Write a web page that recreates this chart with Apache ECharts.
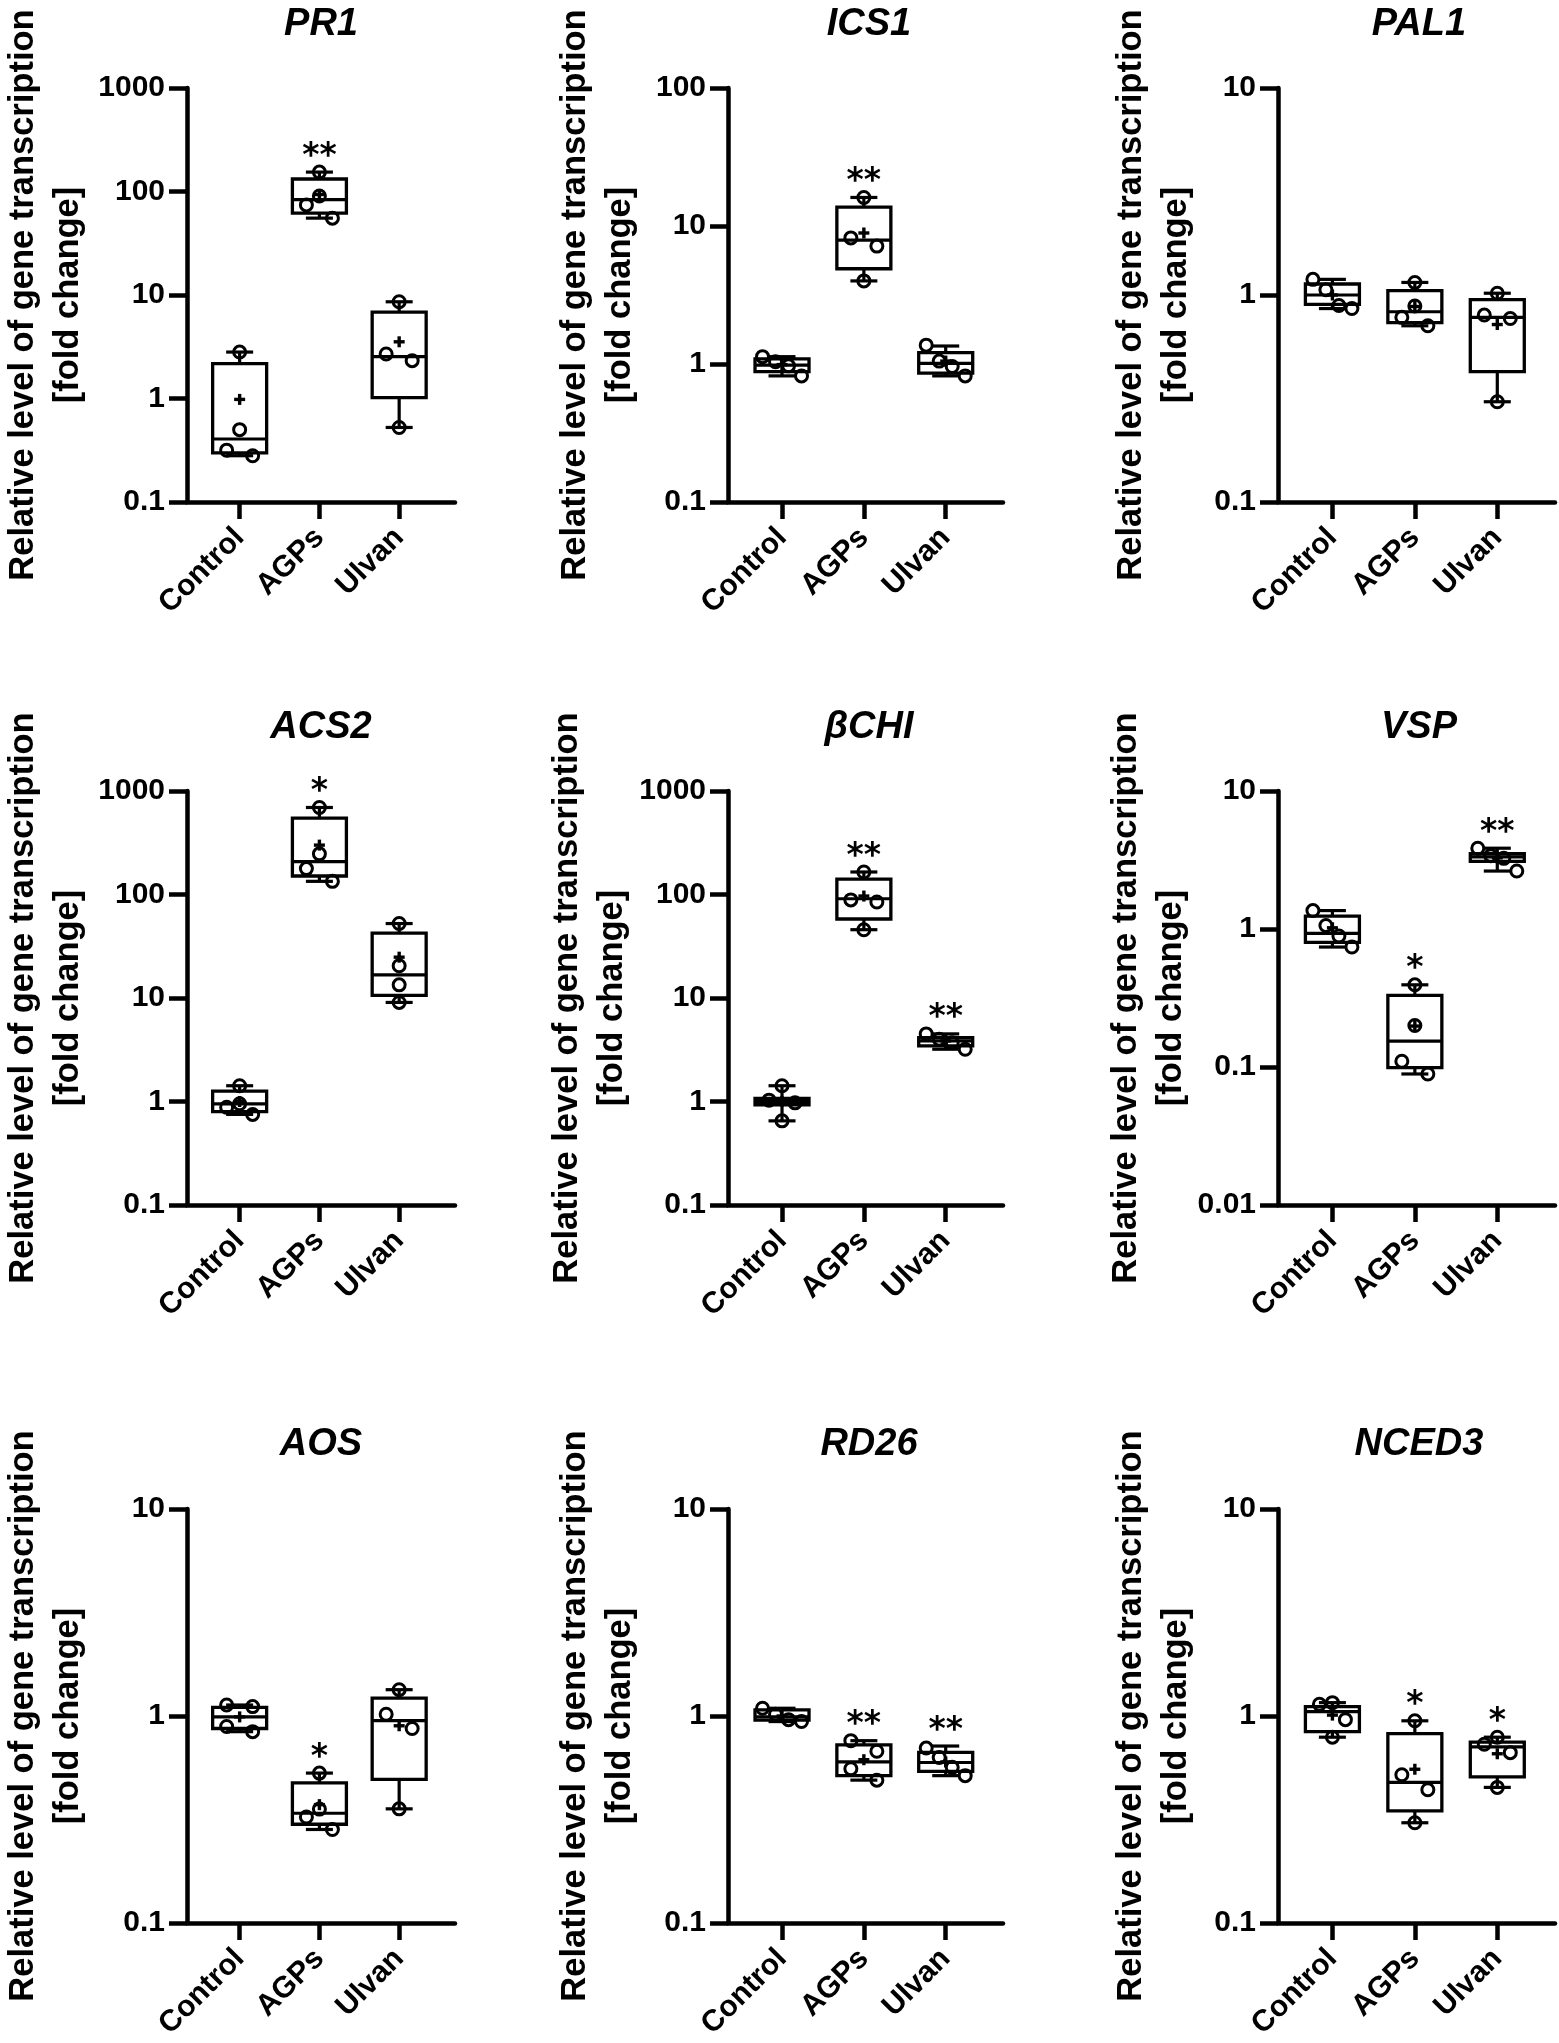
<!DOCTYPE html>
<html>
<head>
<meta charset="utf-8">
<script src="https://cdn.jsdelivr.net/npm/echarts@6/dist/echarts.min.js"></script>
<style>
html,body{margin:0;padding:0;background:#fff;}
#chart{width:1559px;height:2043px;}
</style>
</head>
<body>
<div id="chart"></div>
<script>
// ---------------- data ----------------
const categories = ['Control', 'AGPs', 'Ulvan'];
const geneNames = ['PR1', 'ICS1', 'PAL1', 'ACS2', 'βCHI', 'VSP', 'AOS', 'RD26', 'NCED3'];
const yAxisMin = [0.1, 0.1, 0.1, 0.1, 0.1, 0.01, 0.1, 0.1, 0.1];
const yAxisMax = [1000, 100, 10, 1000, 1000, 10, 10, 10, 10];
const yAxisTitle = 'Relative level of gene transcription\n[fold change]';

// individual replicates (4 per group), box [min, Q1, median, Q3, max], mean "+", significance
const PR1_points = [[2.81, 0.50, 0.317, 0.28], [154, 90.6, 74.2, 55.3], [8.6, 2.69, 2.32, 0.525]];
const PR1_box = [[0.28, 0.298, 0.406, 2.17, 2.81], [55.3, 61.7, 83.5, 132, 154], [0.525, 1.02, 2.54, 6.84, 8.6]];
const PR1_mean = [0.98, 93.5, 3.53];
const PR1_sig = ['', '**', ''];

const ICS1_points = [[1.13, 1.04, 0.97, 0.82], [16.1, 8.2, 7.15, 4.0], [1.37, 1.05, 0.96, 0.82]];
const ICS1_box = [[0.82, 0.88, 0.98, 1.09, 1.13], [4.0, 4.9, 7.9, 13.7, 16.1], [0.82, 0.86, 1.01, 1.21, 1.35]];
const ICS1_mean = [0.99, 8.9, 1.05];
const ICS1_sig = ['', '**', ''];

const PAL1_points = [[1.19, 1.06, 0.89, 0.86], [1.15, 0.885, 0.78, 0.71], [1.02, 0.80, 0.77, 0.305]];
const PAL1_box = [[0.86, 0.90, 1.0, 1.13, 1.19], [0.71, 0.736, 0.83, 1.05, 1.15], [0.305, 0.426, 0.78, 0.95, 1.02]];
const PAL1_mean = [1.0, 0.88, 0.72];
const PAL1_sig = ['', '', ''];

const ACS2_points = [[1.42, 0.95, 0.88, 0.75], [693, 247, 178, 134], [52.4, 20.5, 13.4, 9.06]];
const ACS2_box = [[0.75, 0.80, 0.95, 1.26, 1.42], [134, 151, 208, 548, 693], [9.06, 10.6, 16.7, 42.3, 52.4]];
const ACS2_mean = [1.0, 300, 24.8];
const ACS2_sig = ['', '*', ''];

const BCHI_points = [[1.42, 1.03, 0.97, 0.65], [165, 88.7, 84.6, 45.7], [4.5, 4.0, 3.7, 3.2]];
const BCHI_box = [[0.65, 0.93, 1.0, 1.07, 1.42], [45.7, 58, 91, 140.6, 165], [3.2, 3.44, 3.85, 4.15, 4.5]];
const BCHI_mean = [1.0, 96.6, 3.85];
const BCHI_sig = ['', '**', '**'];

const VSP_points = [[1.36, 1.06, 0.89, 0.74], [0.394, 0.20, 0.11, 0.089], [3.85, 3.4, 3.25, 2.63]];
const VSP_box = [[0.74, 0.80, 0.93, 1.24, 1.36], [0.089, 0.099, 0.154, 0.33, 0.394], [2.63, 3.09, 3.33, 3.51, 3.85]];
const VSP_mean = [1.02, 0.198, 3.28];
const VSP_sig = ['', '*', '**'];

const AOS_points = [[1.13, 1.11, 0.89, 0.84], [0.53, 0.355, 0.325, 0.283], [1.34, 1.02, 0.87, 0.356]];
const AOS_box = [[0.84, 0.87, 0.99, 1.10, 1.13], [0.283, 0.30, 0.339, 0.475, 0.53], [0.356, 0.494, 0.95, 1.22, 1.34]];
const AOS_mean = [0.99, 0.373, 0.897];
const AOS_sig = ['', '*', ''];

const RD26_points = [[1.09, 1.02, 0.96, 0.94], [0.76, 0.676, 0.556, 0.49], [0.70, 0.63, 0.565, 0.515]];
const RD26_box = [[0.94, 0.955, 0.99, 1.07, 1.09], [0.49, 0.515, 0.60, 0.726, 0.76], [0.515, 0.54, 0.596, 0.667, 0.716]];
const RD26_mean = [1.0, 0.615, 0.60];
const RD26_sig = ['', '**', '**'];

const NCED3_points = [[1.16, 1.14, 0.96, 0.79], [0.948, 0.52, 0.44, 0.305], [0.79, 0.73, 0.665, 0.452]];
const NCED3_box = [[0.79, 0.84, 1.05, 1.11, 1.16], [0.305, 0.348, 0.478, 0.822, 0.948], [0.452, 0.508, 0.71, 0.748, 0.79]];
const NCED3_mean = [1.01, 0.553, 0.657];
const NCED3_sig = ['', '*', '*'];

const allPoints = [PR1_points, ICS1_points, PAL1_points, ACS2_points, BCHI_points, VSP_points, AOS_points, RD26_points, NCED3_points];
const allBoxes = [PR1_box, ICS1_box, PAL1_box, ACS2_box, BCHI_box, VSP_box, AOS_box, RD26_box, NCED3_box];
const allMeans = [PR1_mean, ICS1_mean, PAL1_mean, ACS2_mean, BCHI_mean, VSP_mean, AOS_mean, RD26_mean, NCED3_mean];
const allSigs = [PR1_sig, ICS1_sig, PAL1_sig, ACS2_sig, BCHI_sig, VSP_sig, AOS_sig, RD26_sig, NCED3_sig];

// ---------------- layout ----------------
const colLeft = [180, 728, 1278];
const colWidth = [275, 275, 277];
const rowTop = [88, 791, 1509];
const rowHeight = 414;
const titleCenterY = [21, 724, 1441];
const nameGapByCol = [96, 85, 79];
const FONT = '"Liberation Sans", Arial, sans-serif';

const BOX_W = 54, CAP_W = 27, JITTER = 13;

function makeRender(sigs) {
  return function (params, api) {
    const k = params.dataIndex;
    const x = api.value(0);
    const cx = api.coord([x, 1])[0];
    const Y = v => api.coord([x, v])[1];
    const mn = Y(api.value(1)), q1 = Y(api.value(2)), md = Y(api.value(3)),
          q3 = Y(api.value(4)), mx = Y(api.value(5)), mean = Y(api.value(6));
    const pts = [7, 8, 9, 10].map(d => Y(api.value(d)));
    const ln = (x1, y1, x2, y2, w) => ({
      type: 'line', shape: { x1, y1, x2, y2 },
      style: { stroke: '#000', lineWidth: w || 3.2, lineCap: 'butt' }
    });
    const ch = [];
    // whiskers and caps
    ch.push(ln(cx, q3, cx, mx));
    ch.push(ln(cx, q1, cx, mn));
    ch.push(ln(cx - CAP_W / 2, mx, cx + CAP_W / 2, mx));
    ch.push(ln(cx - CAP_W / 2, mn, cx + CAP_W / 2, mn));
    // box
    ch.push({
      type: 'rect', shape: { x: cx - BOX_W / 2, y: q3, width: BOX_W, height: q1 - q3 },
      style: { fill: '#fff', stroke: '#000', lineWidth: 3.3 }
    });
    ch.push(ln(cx - BOX_W / 2, md, cx + BOX_W / 2, md));
    // individual points: simple beeswarm in pixel space
    const order = pts.map((y, i) => i).sort((a, b) => pts[a] - pts[b]);
    const clusters = [];
    let cur = [order[0]];
    for (let i = 1; i < order.length; i++) {
      if (pts[order[i]] - pts[order[i - 1]] < 17.5) cur.push(order[i]);
      else { clusters.push(cur); cur = [order[i]]; }
    }
    clusters.push(cur);
    const pattern = { 1: [0], 2: [-1, 1], 3: [0, -1, 1], 4: [-1.5, -0.5, 0.5, 1.5] };
    clusters.forEach(cl => cl.forEach((idx, j) => {
      ch.push({
        type: 'circle',
        shape: { cx: cx + pattern[cl.length][j] * JITTER, cy: pts[idx], r: 6 },
        style: { fill: 'none', stroke: '#000', lineWidth: 3 }
      });
    }));
    // mean "+"
    ch.push(ln(cx - 5.5, mean, cx + 5.5, mean, 3.4));
    ch.push(ln(cx, mean - 5.5, cx, mean + 5.5, 3.4));
    // significance
    if (sigs[k]) {
      ch.push({
        type: 'text', x: cx, y: mx - 15,
        style: {
          text: sigs[k], fill: '#000', fontSize: 33, fontWeight: 'bold', fontFamily: '"DejaVu Sans"',
          align: 'center', verticalAlign: 'middle'
        }
      });
    }
    return { type: 'group', children: ch };
  };
}

const grids = [], xAxes = [], yAxes = [], series = [], titles = [];
geneNames.forEach((name, i) => {
  const r = Math.floor(i / 3), c = i % 3;
  grids.push({ left: colLeft[c], top: rowTop[r], width: colWidth[c], height: rowHeight, containLabel: false });
  xAxes.push({
    type: 'value', gridIndex: i, min: -0.66, max: 2.7,
    axisLine: { show: true, onZero: false, lineStyle: { color: '#000', width: 4.5 } },
    axisTick: { show: true, customValues: [0, 1, 2], length: 17, lineStyle: { color: '#000', width: 4.5 } },
    axisLabel: {
      customValues: [0, 1, 2], formatter: v => categories[Math.round(v)] || '',
      rotate: 45, margin: 31, color: '#000', fontFamily: FONT, fontWeight: 'bold', fontSize: 30
    },
    splitLine: { show: false }
  });
  yAxes.push({
    type: 'log', logBase: 10, gridIndex: i, min: yAxisMin[i], max: yAxisMax[i],
    axisLine: { show: true, onZero: false, lineStyle: { color: '#000', width: 4.5 } },
    axisTick: { show: true, length: 18, lineStyle: { color: '#000', width: 4.5 } },
    minorTick: { show: false },
    splitLine: { show: false },
    axisLabel: {
      color: '#000', fontFamily: FONT, fontWeight: 'bold', fontSize: 30, margin: 22,
      formatter: v => String(parseFloat(Number(v).toPrecision(6)))
    },
    name: yAxisTitle, nameLocation: 'middle', nameRotate: 90, nameGap: nameGapByCol[c],
    nameTextStyle: { color: '#000', fontFamily: FONT, fontWeight: 'bold', fontSize: 34.5, lineHeight: 45 }
  });
  titles.push({
    text: name, left: colLeft[c] + 136, top: titleCenterY[r] - 20, textAlign: 'center',
    textStyle: { color: '#000', fontFamily: FONT, fontWeight: 'bold', fontStyle: 'italic', fontSize: 38 }
  });
  const pts = allPoints[i], box = allBoxes[i], mean = allMeans[i];
  series.push({
    type: 'custom', name: name, xAxisIndex: i, yAxisIndex: i, silent: true, clip: false,
    dimensions: ['group', 'min', 'q1', 'median', 'q3', 'max', 'mean', 'p1', 'p2', 'p3', 'p4'],
    encode: { x: 0, y: [1, 2, 3, 4, 5] },
    renderItem: makeRender(allSigs[i]),
    data: categories.map((cat, k) => [k].concat(box[k], [mean[k]], pts[k]))
  });
});

const chart = echarts.init(document.getElementById('chart'), null, { renderer: 'canvas' });
chart.setOption({
  backgroundColor: '#fff',
  animation: false,
  title: titles,
  grid: grids,
  xAxis: xAxes,
  yAxis: yAxes,
  series: series
});
</script>
</body>
</html>
